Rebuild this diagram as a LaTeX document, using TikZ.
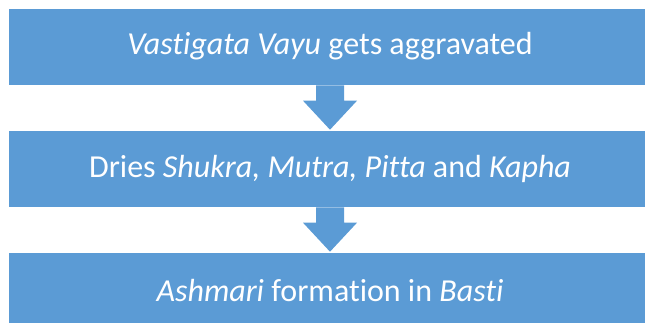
\documentclass[tikz,border=0pt]{standalone}
\usepackage{fontspec}
\setmainfont[Ligatures=NoCommon]{Carlito}
\usetikzlibrary{calc}
\definecolor{officeblue}{HTML}{5B9BD5}

\begin{document}
\begin{tikzpicture}[x=1pt, y=1pt,
    box/.style={fill=officeblue, draw=white, line width=0.6pt, text=white,
        minimum width=644pt, minimum height=77pt, inner sep=0pt,
        font=\fontsize{32}{38}\selectfont},
    blockarrow/.style={fill=officeblue, draw=none}]
    \useasboundingbox (0, 0) rectangle (645, -323);
    \node[box] (vayu) at (330, -46.5) {\textit{Vastigata Vayu} gets aggravated};
    \node[box] (dries) at (330, -168.5) {Dries \textit{Shukra, Mutra, Pitta} and \textit{Kapha}};
    \node[box] (ashmari) at (330, -290.5) {\textit{Ashmari} formation in \textit{Basti}};
    % block arrows between the boxes
    \foreach \from/\to in {vayu/dries, dries/ashmari}
        \fill[blockarrow]
        ($(\from.south)+(-14, 0)$) -- ($(\to.north)+(-14, 29)$) -- ($(\to.north)+(-27, 29)$)
        -- (\to.north) -- ($(\to.north)+(27, 29)$) -- ($(\to.north)+(14, 29)$)
        -- ($(\from.south)+(14, 0)$) -- cycle;
\end{tikzpicture}
\end{document}
